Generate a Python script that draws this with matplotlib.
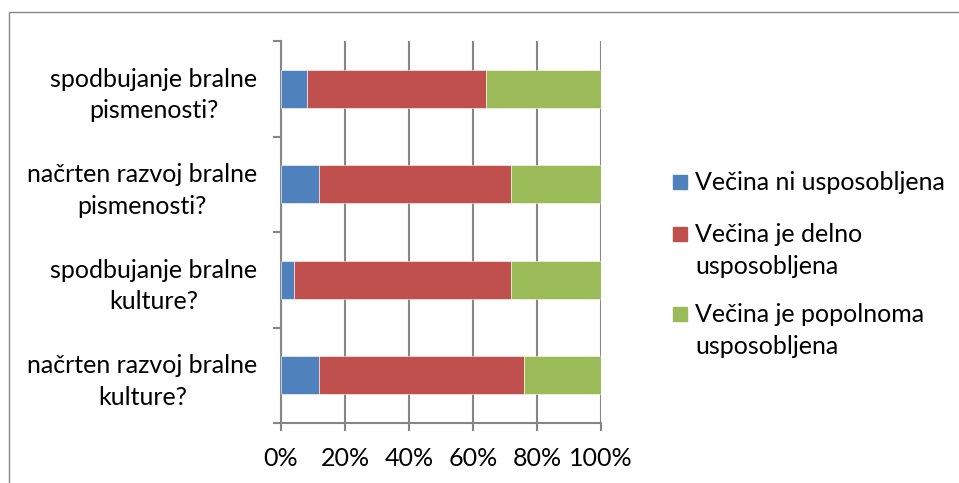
import numpy as np
import matplotlib
matplotlib.use("Agg")
import matplotlib.pyplot as plt
from matplotlib.patches import Rectangle

# Data (top to bottom as shown)
categories = ["spodbujanje bralne\npismenosti?",
              "načrten razvoj bralne\npismenosti?",
              "spodbujanje bralne\nkulture?",
              "načrten razvoj bralne\nkulture?"]
series_names = ["Večina ni usposobljena",
                "Večina je delno\nusposobljena",
                "Večina je popolnoma\nusposobljena"]
not_trained = [8, 12, 4, 12]
partly_trained = [56, 60, 68, 64]
fully_trained = [36, 28, 28, 24]
x_ticks = [0, 20, 40, 60, 80, 100]

colors = ["#4F81BD", "#C0504D", "#9BBB59"]
grey = "#868686"

plt.rcParams['font.family'] = ['Lato', 'DejaVu Sans']
fs = 18

W, H = 959, 483
fig = plt.figure(figsize=(W / 100, H / 100), dpi=100)
ax = fig.add_axes([281 / W, 1 - 423 / H, (601 - 281) / W, (423 - 41) / H])

y = np.arange(len(categories))
left = np.zeros(len(categories))
for vals, name, c in zip([not_trained, partly_trained, fully_trained], series_names, colors):
    ax.barh(y, vals, left=left, height=0.4, color=c, edgecolor="white",
            linewidth=0.4, label=name, zorder=3)
    left += np.array(vals)

ax.set_xlim(0, 100)
ax.set_ylim(len(categories) - 0.5, -0.5)
ax.set_xticks(x_ticks)
ax.set_xticklabels([f"{t}%" for t in x_ticks], fontsize=fs)
ax.set_yticks(y)
ax.set_yticklabels(categories, fontsize=fs, ma="center", linespacing=1.45)
ax.set_yticks(np.arange(-0.5, len(categories), 1), minor=True)
ax.tick_params(axis="y", which="major", length=0, pad=17)
ax.tick_params(axis="y", which="minor", length=6, color=grey, width=1.5)
ax.tick_params(axis="x", length=6, color=grey, width=1.5, pad=11)
ax.grid(axis="x", color=grey, linewidth=1.5, zorder=0)
for s in ["top", "right"]:
    ax.spines[s].set_visible(False)
for s in ["left", "bottom"]:
    ax.spines[s].set_color(grey)
    ax.spines[s].set_linewidth(1.5)

# legend (manual, Excel style)
leg_y = [182, 234, 314]
for name, c, ly in zip(series_names, colors, leg_y):
    fig.patches.append(Rectangle((673 / W, 1 - (ly + 7) / H), 14 / W, 14 / H,
                                 transform=fig.transFigure, color=c))
    fig.text(695 / W, 1 - (ly - 11) / H, name, fontsize=fs, va="top",
             ha="left", linespacing=1.45)

# outer chart border
fig.patches.append(Rectangle((9 / W, -0.1), 1.2, 1.1 - 12 / H,
                             transform=fig.transFigure, fill=False,
                             edgecolor=grey, linewidth=1))

fig.savefig("out.png", dpi=100)
